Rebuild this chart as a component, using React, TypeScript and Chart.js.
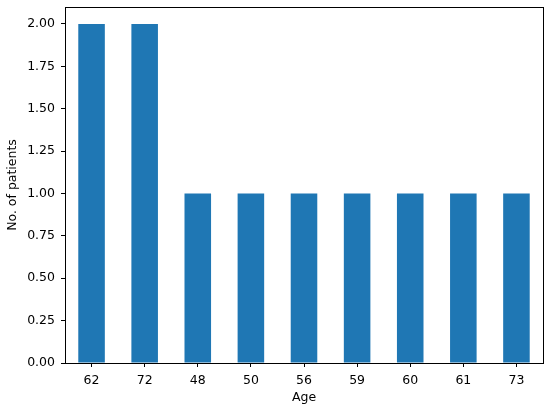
import React, { useEffect, useRef } from "react";
import { Chart, registerables } from "chart.js";

Chart.register(...registerables);

const categories = ["62", "72", "48", "50", "56", "59", "60", "61", "73"];
const patients = [2, 2, 1, 1, 1, 1, 1, 1, 1];
const yTicks = [0, 0.25, 0.5, 0.75, 1.0, 1.25, 1.5, 1.75, 2.0];

const FONT = "'DejaVu Sans', sans-serif";
const FS = 12.5;

const framePlugin = {
  id: "frame",
  afterDraw(chart: any) {
    const { ctx, chartArea } = chart;
    ctx.save();
    ctx.strokeStyle = "#000";
    ctx.lineWidth = 1;
    ctx.strokeRect(
      Math.round(chartArea.left) + 0.5,
      Math.round(chartArea.top) + 0.5,
      Math.round(chartArea.right - chartArea.left),
      Math.round(chartArea.bottom - chartArea.top)
    );
    ctx.restore();
  },
};

export default function App() {
  const ref = useRef<HTMLCanvasElement>(null);
  useEffect(() => {
    if (!ref.current) return;
    const chart = new Chart(ref.current, {
      type: "bar",
      data: {
        labels: categories,
        datasets: [
          {
            data: patients,
            backgroundColor: "#1f77b4",
            borderWidth: 0,
            barPercentage: 0.5,
            categoryPercentage: 1,
          },
        ],
      },
      options: {
        responsive: false,
        animation: false,
        layout: { padding: { left: 0, top: 7, right: 7, bottom: 0 } },
        plugins: { legend: { display: false }, tooltip: { enabled: false } },
        scales: {
          x: {
            offset: true,
            grid: {
              offset: false,
              drawOnChartArea: false,
              drawTicks: true,
              tickLength: 4,
              color: "#000",
            },
            border: { display: true, color: "#000" },
            ticks: {
              color: "#000",
              padding: 6,
              font: { family: FONT, size: FS },
              maxRotation: 0,
            },
            title: {
              display: true,
              text: "Age",
              color: "#000",
              font: { family: FONT, size: FS },
              padding: { top: 0, bottom: 4 },
            },
            afterFit(scale: any) {
              scale.height = 46;
              scale.paddingLeft = 0;
              scale.paddingRight = 0;
            },
          },
          y: {
            min: 0,
            max: 2.1,
            grid: {
              drawOnChartArea: false,
              drawTicks: true,
              tickLength: 4,
              color: "#000",
            },
            border: { display: true, color: "#000" },
            afterBuildTicks(scale: any) {
              scale.ticks = yTicks.map((v) => ({ value: v }));
            },
            ticks: {
              color: "#000",
              padding: 6,
              font: { family: FONT, size: FS },
              callback: (v: any) => Number(v).toFixed(2),
            },
            title: {
              display: true,
              text: "No. of patients",
              color: "#000",
              font: { family: FONT, size: FS },
              padding: { top: 5, bottom: 0 },
            },
            afterFit(scale: any) {
              scale.width = 65;
              scale.paddingTop = 0;
              scale.paddingBottom = 0;
            },
          },
        },
      },
      plugins: [framePlugin],
    });
    return () => chart.destroy();
  }, []);
  return (
    <div style={{ position: "absolute", left: 0, top: 0, width: 550, height: 409, background: "#fff" }}>
      <canvas ref={ref} width={550} height={409} />
    </div>
  );
}
